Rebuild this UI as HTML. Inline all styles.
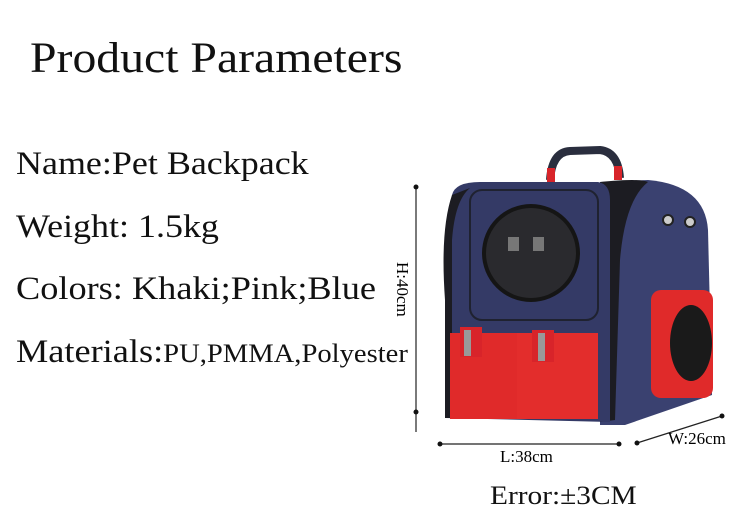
<!DOCTYPE html>
<html><head><meta charset="utf-8"><style>
body{margin:0;width:750px;height:530px;background:#fff;overflow:hidden;position:relative;font-family:"Liberation Serif",serif;color:#111}
.t{position:absolute;white-space:nowrap;line-height:1;transform-origin:0 0}
</style></head><body>
<div class="t" style="left:30px;top:37px;font-size:43px;transform:scaleX(1.11)">Product Parameters</div>
<div class="t" style="left:16px;top:148px;font-size:33px;transform:scaleX(1.09)">Name:Pet Backpack</div>
<div class="t" style="left:16px;top:211px;font-size:33px;transform:scaleX(1.09)">Weight: 1.5kg</div>
<div class="t" style="left:16px;top:273px;font-size:33px;transform:scaleX(1.1)">Colors: Khaki;Pink;Blue</div>
<div class="t" style="left:16px;top:336px;font-size:33px;transform:scaleX(1.1)">Materials:<span style="font-size:26px">PU,PMMA,Polyester</span></div>
<div class="t" style="left:490px;top:483px;font-size:26px;transform:scaleX(1.13)">Error:±3CM</div>
<svg width="750" height="530" style="position:absolute;left:0;top:0">
<line x1="416" y1="186" x2="416" y2="432" stroke="#222" stroke-width="1.2"/>
<circle cx="416" cy="187" r="2.5" fill="#111"/><circle cx="416" cy="412" r="2.5" fill="#111"/>
<text x="0" y="0" font-size="17" font-family="Liberation Serif" transform="translate(397,262) rotate(90)">H:40cm</text>
<line x1="440" y1="444" x2="619" y2="444" stroke="#222" stroke-width="1.2"/>
<circle cx="440" cy="444" r="2.5" fill="#111"/><circle cx="619" cy="444" r="2.5" fill="#111"/>
<text x="500" y="462" font-size="17" font-family="Liberation Serif">L:38cm</text>
<line x1="637" y1="443" x2="722" y2="416" stroke="#222" stroke-width="1.2"/>
<circle cx="637" cy="443" r="2.5" fill="#111"/><circle cx="722" cy="416" r="2.5" fill="#111"/>
<text x="668" y="444" font-size="17" font-family="Liberation Serif">W:26cm</text>
<path d="M550 180 Q552 152 570 151 L600 150 Q618 152 620 178" fill="none" stroke="#2a2e3e" stroke-width="8"/>
<rect x="547" y="168" width="8" height="14" fill="#d8242a"/><rect x="614" y="166" width="8" height="14" fill="#d8242a"/>
<path d="M600 182 L648 180 Q705 185 708 230 L712 395 L625 425 L600 425 Z" fill="#3a4170"/>
<path d="M600 182 Q640 178 648 182 Q625 200 620 260 L615 420 L600 422 Z" fill="#1c1c22"/>
<path d="M452 195 Q455 182 480 182 L598 182 Q610 184 610 200 L610 422 L445 418 L445 260 Z" fill="#343a66"/>
<path d="M452 195 Q440 230 445 300 L445 418 L452 418 L452 240 Q455 200 470 188 Z" fill="#1c1c22"/>
<rect x="470" y="190" width="128" height="130" rx="12" fill="none" stroke="#1f2230" stroke-width="2"/>
<circle cx="531" cy="253" r="49" fill="#151515"/>
<circle cx="531" cy="253" r="45" fill="#2a2a2e"/>
<rect x="508" y="237" width="11" height="14" fill="#777"/><rect x="533" y="237" width="11" height="14" fill="#777"/>
<circle cx="668" cy="220" r="5" fill="#ccc" stroke="#222" stroke-width="2"/><circle cx="690" cy="222" r="5" fill="#ccc" stroke="#222" stroke-width="2"/>
<rect x="450" y="333" width="70" height="86" fill="#e02a2a"/>
<rect x="517" y="333" width="81" height="86" fill="#e32d2c"/>
<rect x="460" y="327" width="22" height="30" fill="#d8242a"/><rect x="464" y="330" width="7" height="26" fill="#999"/>
<rect x="532" y="330" width="22" height="32" fill="#d8242a"/><rect x="538" y="333" width="7" height="28" fill="#999"/>
<rect x="651" y="290" width="62" height="108" rx="10" fill="#e02a2a"/>
<ellipse cx="691" cy="343" rx="21" ry="38" fill="#1a1a1a"/>
</svg>
</body></html>
